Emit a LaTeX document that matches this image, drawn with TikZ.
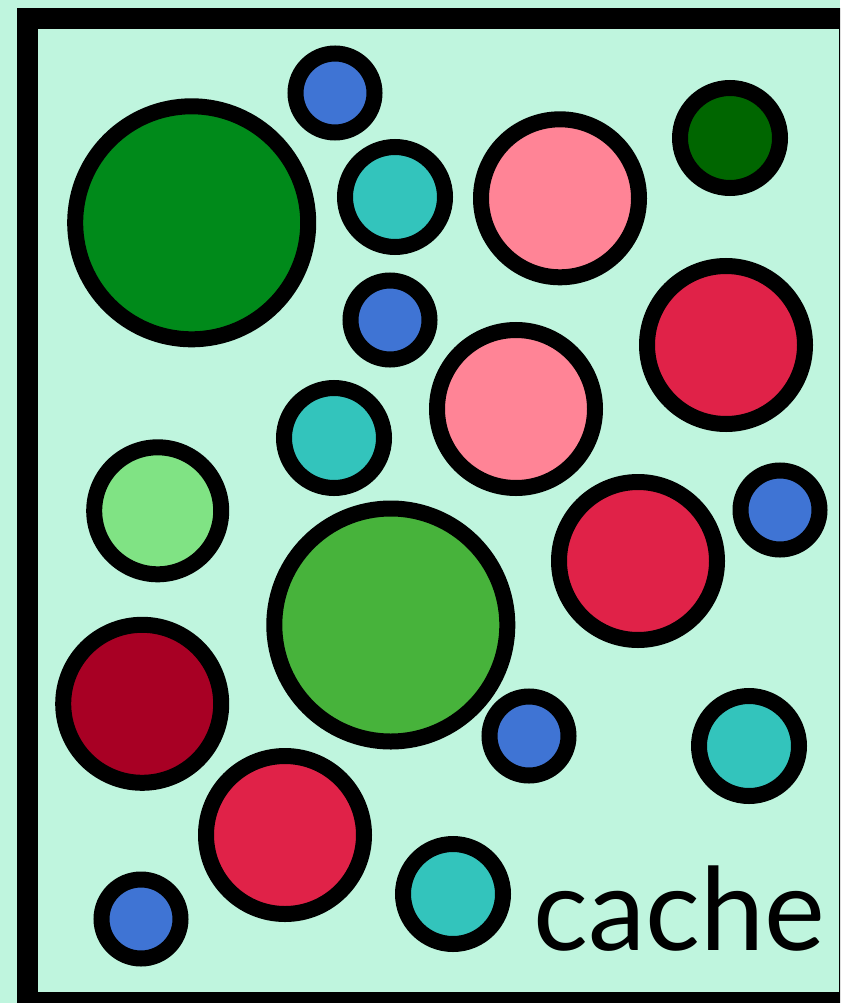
\documentclass[tikz,border=0pt]{standalone}
\usepackage{fontspec}
\setmainfont{Lato}
\usepackage{tikz}
\usetikzlibrary{positioning}

\definecolor{mint}{RGB}{191,245,222}
\definecolor{forest}{RGB}{0,138,26}
\definecolor{grass}{RGB}{71,179,59}
\definecolor{lime}{RGB}{128,227,132}
\definecolor{pine}{RGB}{0,102,0}
\definecolor{rose}{RGB}{255,132,150}
\definecolor{berry}{RGB}{224,34,72}
\definecolor{wine}{RGB}{168,0,36}
\definecolor{aqua}{RGB}{51,196,188}
\definecolor{sky}{RGB}{63,116,212}

\begin{document}
\begin{tikzpicture}[
  x=1pt, y=-1pt,
  ball/.style={circle, draw, line width=16pt, inner sep=0pt},
  xl/.style={ball, minimum size=233pt},
  lg/.style={ball, minimum size=158pt},
  md/.style={ball, minimum size=127pt},
  sm/.style={ball, minimum size=100pt},
  xs/.style={ball, minimum size=79pt, fill=sky}
]
\clip (0,0) rectangle (840,1003);
\fill[mint] (0,0) rectangle (840,1003);
\draw[line width=21pt] (27.5,19) rectangle (849,1002.5);

% big ones
\node[xl, fill=forest] (forest1) at (191.7,222.8) {};
\node[xl, fill=grass] (grass1) at (390.8,625) {};

% medium
\node[lg, fill=rose] (rose1) at (560,198.3) {};
\node[lg, fill=rose] (rose2) at (516,409) {};
\node[lg, fill=berry] (berry1) at (726,345) {};
\node[lg, fill=berry] (berry2) at (638,561) {};
\node[lg, fill=berry] (berry3) at (285,835) {};
\node[lg, fill=wine] (wine1) at (142.2,703.8) {};
\node[md, fill=lime] (lime1) at (157.7,510.8) {};

% small
\node[sm, fill=pine] (pine1) at (730,138) {};
\node[sm, fill=aqua] (aqua1) at (395,197) {};
\node[sm, fill=aqua] (aqua2) at (334,438) {};
\node[sm, fill=aqua] (aqua3) at (749,746) {};
\node[sm, fill=aqua] (aqua4) at (453,894) {};

% tiny
\node[xs] (sky1) at (335,93) {};
\node[xs] (sky2) at (390,320) {};
\node[xs] (sky3) at (780,510) {};
\node[xs] (sky4) at (529,736) {};
\node[xs] (sky5) at (141,919) {};

\node[font=\fontsize{115}{115}\selectfont, inner sep=0pt, anchor=base west] (label) at (533,950) {cache};
\end{tikzpicture}
\end{document}
